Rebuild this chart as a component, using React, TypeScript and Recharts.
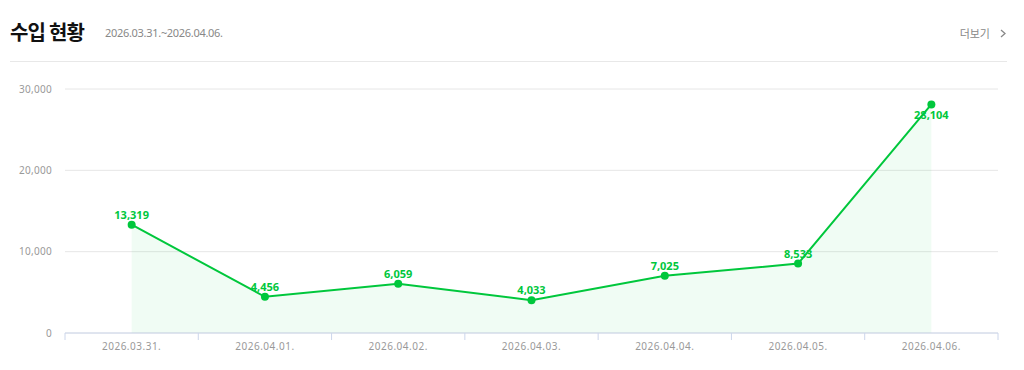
import React from 'react';
import { ComposedChart, Area, XAxis, YAxis, CartesianGrid } from 'recharts';

const dates = ['2026.03.31.', '2026.04.01.', '2026.04.02.', '2026.04.03.', '2026.04.04.', '2026.04.05.', '2026.04.06.'];
const income = [13319, 4456, 6059, 4033, 7025, 8533, 28104];
const yTicks = [0, 10000, 20000, 30000];

const GREEN = '#00c73c';
const AXIS = '#ccd6eb';
const CHART_W = 1024;
const CHART_H = 370;
const MARGIN = { top: 89, right: 26, bottom: 7, left: 5 };
const Y_AXIS_W = 60;
const PLOT_W = CHART_W - MARGIN.left - MARGIN.right - Y_AXIS_W;
const BAND = PLOT_W / dates.length;

const data = dates.map((d, i) => ({ date: d, value: income[i] }));

const fmt = (v: number) => v.toLocaleString('en-US');

const DateTick = (props: any) => {
  const { x, y, payload, index } = props;
  const top = y - 10;
  const bottom = y - 3;
  const last = index === dates.length - 1;
  return (
    <g>
      <line x1={x - BAND / 2} x2={x - BAND / 2} y1={top} y2={bottom} stroke={AXIS} strokeWidth={1} />
      {last && <line x1={x + BAND / 2} x2={x + BAND / 2} y1={top} y2={bottom} stroke={AXIS} strokeWidth={1} />}
      <text x={x} y={y + 7} textAnchor="middle" fill="#999" fontSize={10} letterSpacing={0.5} fontFamily="'Noto Sans', sans-serif">
        {payload.value}
      </text>
    </g>
  );
};

const ValueLabel = (props: any) => {
  const { x, y, value } = props;
  const below = y - MARGIN.top < 20;
  return (
    <text
      x={x}
      y={below ? y + 15 : y - 6}
      textAnchor="middle"
      fill={GREEN}
      fontSize={11}
      fontWeight="bold"
      fontFamily="'Noto Sans', sans-serif"
    >
      {fmt(value)}
    </text>
  );
};

const Dot = (props: any) => {
  const { cx, cy, index } = props;
  if (cx == null || cy == null) return <g key={index} />;
  return <circle key={index} cx={cx} cy={cy} r={4} fill={GREEN} />;
};

export default function App() {
  return (
    <div style={{ position: 'absolute', left: 0, top: 0, width: CHART_W, height: CHART_H, background: '#fff', fontFamily: "'Noto Sans CJK KR', 'Noto Sans', sans-serif" }}>
      <div style={{ position: 'absolute', left: 10, top: 18, fontSize: 20, fontWeight: 'bold', color: '#111', letterSpacing: -0.8, lineHeight: '28px' }}>
        수입 현황
      </div>
      <div style={{ position: 'absolute', left: 105, top: 25, fontSize: 11, color: '#888', letterSpacing: -0.3, lineHeight: '16px', fontFamily: "'Noto Sans', sans-serif" }}>
        2026.03.31.~2026.04.06.
      </div>
      <div style={{ position: 'absolute', right: 18, top: 25, fontSize: 11, color: '#888', lineHeight: '16px', display: 'flex', alignItems: 'center' }}>
        <span>더보기</span>
        <svg width={6} height={9} style={{ marginLeft: 10 }}>
          <polyline points="1,1 5,4.5 1,8" fill="none" stroke="#888" strokeWidth={1.3} />
        </svg>
      </div>
      <div style={{ position: 'absolute', left: 10, top: 61, width: 997, height: 1, background: '#e8e8e8' }} />
      <div style={{ position: 'absolute', left: 0, top: 0 }}>
        <ComposedChart width={CHART_W} height={CHART_H} data={data} margin={MARGIN}>
          <CartesianGrid vertical={false} stroke="#e6e6e6" />
          <XAxis
            dataKey="date"
            height={30}
            padding={{ left: BAND / 2, right: BAND / 2 }}
            axisLine={{ stroke: AXIS }}
            tickLine={false}
            tickSize={8}
            tickMargin={2}
            interval={0}
            tick={<DateTick />}
          />
          <YAxis
            width={Y_AXIS_W}
            domain={[0, 30000]}
            ticks={yTicks}
            axisLine={false}
            tickLine={false}
            tickSize={6}
            tickMargin={7}
            tickFormatter={fmt}
            tick={{ fill: '#999', fontSize: 10, letterSpacing: 0.3, fontFamily: "'Noto Sans', sans-serif" }}
          />
          <Area
            type="linear"
            dataKey="value"
            stroke={GREEN}
            strokeWidth={2}
            fill={GREEN}
            fillOpacity={0.06}
            dot={<Dot />}
            activeDot={false}
            label={<ValueLabel />}
            isAnimationActive={false}
          />
        </ComposedChart>
      </div>
    </div>
  );
}
